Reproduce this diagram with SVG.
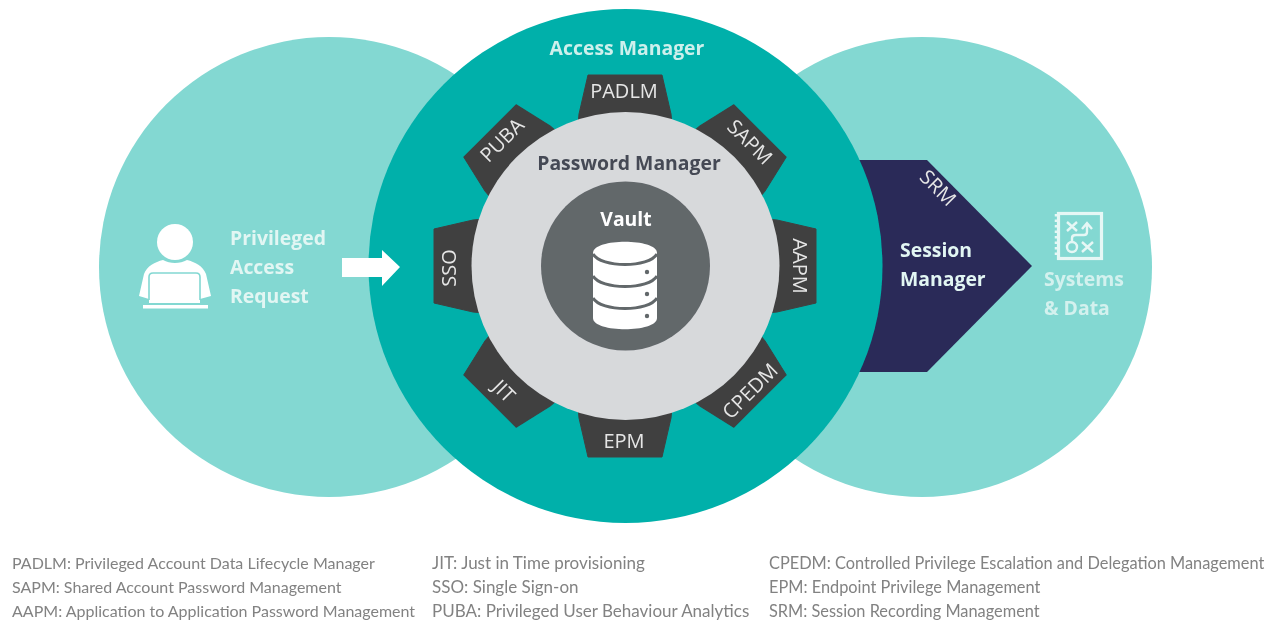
<svg xmlns="http://www.w3.org/2000/svg" width="1275" height="621" viewBox="0 0 1275 621">
<defs>
<style>
text{font-family:"Open Sans","Noto Sans","Liberation Sans",sans-serif}
.b{font-weight:700;font-size:19.4px}
.l{fill:#e2f6f3}
.t{fill:#e6e6e6;font-size:20px;text-anchor:middle}
.f{font-family:Lato,"Open Sans",sans-serif;font-size:16px;fill:#828282}
.g{font-size:17px}
.h{font-size:16.35px}
</style>
<filter id="soft" x="0" y="0" width="100%" height="100%"><feGaussianBlur stdDeviation="0.45"/></filter>
<polygon id="tooth" points="-47,-140 -46,-152 -37,-191 37,-191 46,-152 47,-140" stroke="#404040" stroke-width="1" stroke-linejoin="round"/>
</defs>
<rect width="1275" height="621" fill="#ffffff"/>
<g filter="url(#soft)">
<g id="request-circle"><circle cx="329" cy="267" r="230" fill="#83d8d2"/></g>
<g id="systems-circle"><circle cx="922" cy="267" r="230" fill="#83d8d2"/></g>
<g id="session-manager">
<polygon points="840,160 927,160 1032,266 927,372 840,372" fill="#2a2a58"/>
<text class="b l" x="900" y="257">Session</text>
<text class="b l" x="900" y="286">Manager</text>
<text transform="translate(937,189) rotate(45)" font-size="20" fill="#e6e6e6" text-anchor="middle" dominant-baseline="middle">SRM</text>
</g>
<g id="access-manager">
<circle cx="625.5" cy="266" r="257" fill="#00b0aa"/>
<text class="b" x="627" y="55" text-anchor="middle" fill="#cdf0ec">Access Manager</text>
</g>
<g id="gear" fill="#404040">
<use href="#tooth" transform="translate(625,266)"/>
<use href="#tooth" transform="translate(625,266) rotate(45)"/>
<use href="#tooth" transform="translate(625,266) rotate(90)"/>
<use href="#tooth" transform="translate(625,266) rotate(135)"/>
<use href="#tooth" transform="translate(625,266) rotate(180)"/>
<use href="#tooth" transform="translate(625,266) rotate(225)"/>
<use href="#tooth" transform="translate(625,266) rotate(270)"/>
<use href="#tooth" transform="translate(625,266) rotate(315)"/>
</g>
<g id="password-manager">
<circle cx="625.5" cy="266" r="154" fill="#d7d9db"/>
<text class="b" x="629" y="170" text-anchor="middle" fill="#454a54">Password Manager</text>
</g>
<g id="labels">
<text class="t" x="624" y="98">PADLM</text>
<text class="t" transform="translate(745,147) rotate(45)">SAPM</text>
<text class="t" transform="translate(793,266) rotate(90)">AAPM</text>
<text class="t" transform="translate(755,396) rotate(-45)">CPEDM</text>
<text class="t" x="624" y="448">EPM</text>
<text class="t" transform="translate(499,396) rotate(45)">JIT</text>
<text class="t" transform="translate(456,268) rotate(-90)">SSO</text>
<text class="t" transform="translate(507,145) rotate(-45)">PUBA</text>
</g>
<g id="vault">
<circle cx="625.5" cy="266" r="84.5" fill="#62676b"/>
<text class="b" x="626" y="226" text-anchor="middle" fill="#ffffff">Vault</text>
<path d="M593,253 C593,238 657,238 657,253 V318 C657,333 593,333 593,318 Z" fill="#ffffff"/>
<g fill="none" stroke="#62676b" stroke-width="3">
<path d="M593,254 C601,268 649,268 657,254"/>
<path d="M593,276 C601,290 649,290 657,276"/>
<path d="M593,298 C601,312 649,312 657,298"/>
</g>
<g fill="#62676b"><circle cx="647" cy="272" r="2.2"/><circle cx="647" cy="294" r="2.2"/><circle cx="647" cy="316" r="2.2"/></g>
</g>
<g id="privileged-access-request">
<circle cx="175" cy="242" r="18" fill="#ffffff"/>
<path d="M139,296 L144,274 C147,266 155,262 163,260 C170,264 180,264 187,260 C195,262 203,266 206,274 L211,296 L200,299 L200,303 L149,303 L149,299 Z" fill="#ffffff"/>
<path d="M149,300 V277 Q149,273 153,273 H196 Q200,273 200,277 V300" fill="none" stroke="#83d8d2" stroke-width="1.6"/>
<rect x="143" y="305" width="65" height="3.5" fill="#ffffff"/>
<text class="b l" x="230" y="245">Privileged</text>
<text class="b l" x="230" y="274">Access</text>
<text class="b l" x="230" y="303">Request</text>
</g>
<g id="connectors">
<polygon points="342,258 382,258 382,250 400,267 382,286 382,277 342,277" fill="#ffffff"/>
</g>
<g id="systems-data">
<rect x="1058.5" y="213.5" width="43" height="45" fill="none" stroke="#e6f7f5" stroke-width="3.2"/>
<path d="M1056,214 V258" stroke="#e6f7f5" stroke-width="2.5" stroke-dasharray="2.5 3" fill="none"/>
<g fill="none" stroke="#e6f7f5" stroke-width="2.4">
<path d="M1067,222 l10,9 m0,-9 l-10,9"/>
<path d="M1082,242 l11,10 m0,-10 l-11,10"/>
<circle cx="1072" cy="247" r="5"/>
<path d="M1072,242 V238 Q1072,235 1076,235 H1084 Q1087,235 1087,232 V224 M1082,229 l5,-6 l5,6"/>
</g>
<text class="b" x="1044" y="286" fill="#d3f1ee">Systems</text>
<text class="b" x="1044" y="315" fill="#d3f1ee">&amp; Data</text>
</g>
<g id="legend">
<text class="f" x="12" y="569">PADLM: Privileged Account Data Lifecycle Manager</text>
<text class="f" x="12" y="593">SAPM: Shared Account Password Management</text>
<text class="f" x="12" y="617">AAPM: Application to Application Password Management</text>
<text class="f g" x="432" y="569">JIT: Just in Time provisioning</text>
<text class="f g" x="432" y="593">SSO: Single Sign-on</text>
<text class="f g" x="432" y="617">PUBA: Privileged User Behaviour Analytics</text>
<text class="f h" x="769" y="569">CPEDM: Controlled Privilege Escalation and Delegation Management</text>
<text class="f h" x="769" y="593">EPM: Endpoint Privilege Management</text>
<text class="f h" x="769" y="617">SRM: Session Recording Management</text>
</g>
</g>
</svg>
